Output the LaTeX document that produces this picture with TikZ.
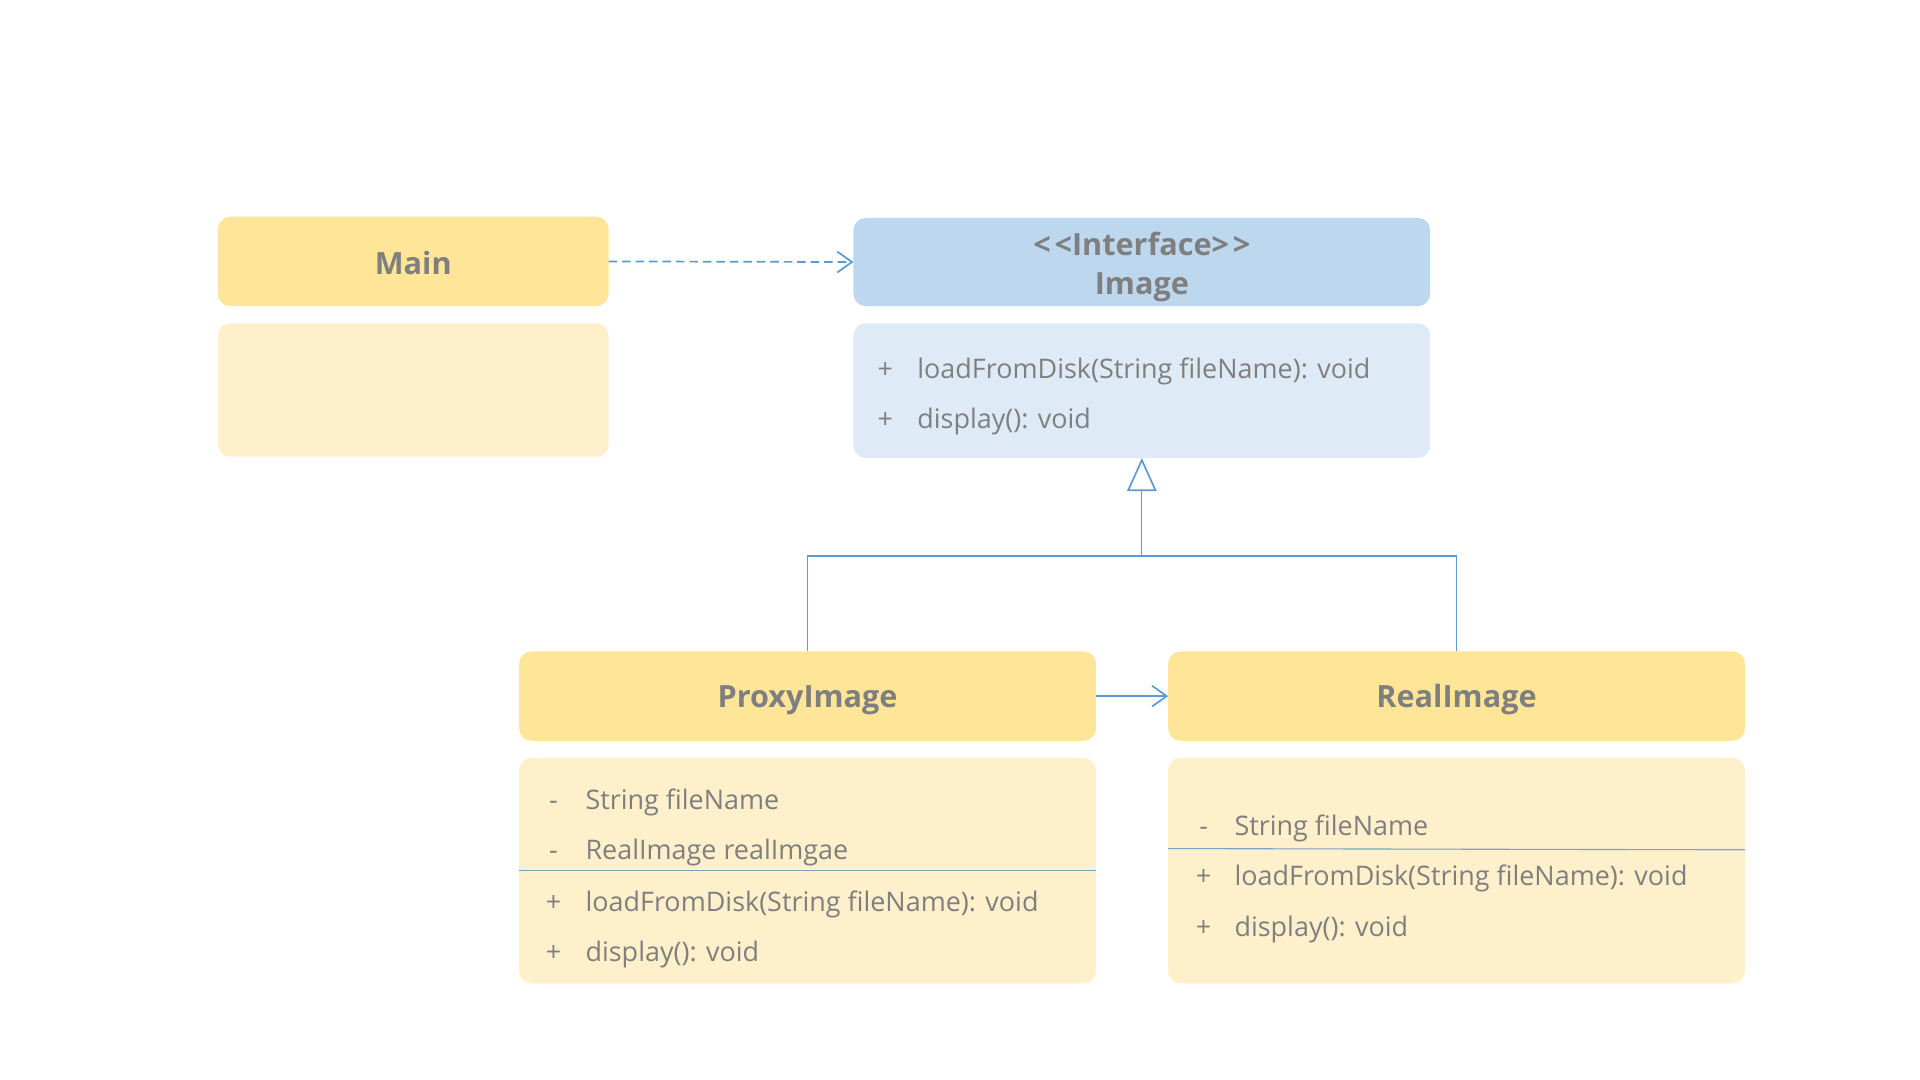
\documentclass[tikz,border=0pt]{standalone}
\usepackage{fontspec}
\setmainfont{Open Sans}
\usetikzlibrary{arrows.meta}
\definecolor{hdrY}{HTML}{FFE597}
\definecolor{bodyY}{HTML}{FFF0CC}
\definecolor{hdrB}{HTML}{BDD7EE}
\definecolor{bodyB}{HTML}{DEEAF6}
\definecolor{txt}{HTML}{7F7F7F}
\definecolor{ln}{HTML}{5B9BD5}
\definecolor{sepc}{HTML}{7BA3C4}
\begin{document}
\begin{tikzpicture}[x=1pt,y=-1pt,
  box/.style={rectangle, rounded corners=10pt, inner sep=0pt, outer sep=0pt},
  title/.style={inner sep=0pt, font=\fontsize{25}{32}\selectfont\bfseries, text=txt, align=center},
  sign/.style={inner sep=0pt, font=\fontsize{22}{26}\selectfont, text=txt, text height=15pt, text depth=5pt},
  member/.style={sign, anchor=west},
  conn/.style={draw=ln, line width=1pt},
  sepline/.style={draw=sepc, line width=0.9pt}]
\useasboundingbox[fill=white] (0,0) rectangle (1568,882);

% Main
\node[box, fill=hdrY, minimum width=319pt, minimum height=73pt] (main) at (337.5,213.5) {};
\node[title] (maint) at (337.5,215) {Main};
\node[box, fill=bodyY, minimum width=319pt, minimum height=109pt] (mainbody) at (337.5,318.5) {};

% Image
\node[box, fill=hdrB, minimum width=471pt, minimum height=72pt] (image) at (932.5,214) {};
\node[title] (imaget) at (932.5,218) {<\kern3pt<Interface>\kern3pt>\\Image};
\node[box, fill=bodyB, minimum width=471pt, minimum height=110pt] (imagebody) at (932.5,319) {};
\node[sign] (is1) at (723,304) {+};
\node[member] (im1) at (749,304) {loadFromDisk(String fileName): void};
\node[sign] (is2) at (723,345) {+};
\node[member] (im2) at (749,345) {display(): void};

% ProxyImage
\node[box, fill=hdrY, minimum width=471pt, minimum height=73pt] (proxy) at (659.5,568.5) {};
\node[title] (proxyt) at (659.5,571.5) {ProxyImage};
\node[box, fill=bodyY, minimum width=471pt, minimum height=184pt] (proxybody) at (659.5,711) {};
\node[sign] (ps1) at (452,656) {-};
\node[member] (pm1) at (478,656) {String fileName};
\node[sign] (ps2) at (452,697) {-};
\node[member] (pm2) at (478,697) {RealImage realImgae};
\draw[sepline] (proxybody.west |- {(0,711)}) -- (proxybody.east |- {(0,711)});
\node[sign] (ps3) at (452,739) {+};
\node[member] (pm3) at (478,739) {loadFromDisk(String fileName): void};
\node[sign] (ps4) at (452,780) {+};
\node[member] (pm4) at (478,780) {display(): void};

% RealImage
\node[box, fill=hdrY, minimum width=471pt, minimum height=73pt] (real) at (1189.5,568.5) {};
\node[title] (realt) at (1189.5,571.5) {RealImage};
\node[box, fill=bodyY, minimum width=471pt, minimum height=184pt] (realbody) at (1189.5,711) {};
\node[sign] (rs1) at (983,677) {-};
\node[member] (rm1) at (1008,677) {String fileName};
\draw[sepline] (realbody.west |- {(0,693)}) -- (realbody.east |- {(0,694)});
\node[sign] (rs2) at (983,718) {+};
\node[member] (rm2) at (1008,718) {loadFromDisk(String fileName): void};
\node[sign] (rs3) at (983,760) {+};
\node[member] (rm3) at (1008,760) {display(): void};

% connectors
\draw[conn, line width=1.4pt, dash pattern=on 7pt off 4pt, -{Straight Barb[length=12pt,width=17pt,line width=1.4pt]}] (main.east) -- (image.west);
\draw[conn, line width=1.4pt, -{Straight Barb[length=12pt,width=17pt,line width=1.4pt]}] (proxy.east) -- (real.west);
\coordinate (junc) at (932.5,454);
\draw[conn] (proxy.north) |- (junc) -| (real.north);
\draw[conn, -{Triangle[open,length=27pt,width=24pt,line width=1.4pt]}] (junc) -- (imagebody.south);
\end{tikzpicture}
\end{document}
